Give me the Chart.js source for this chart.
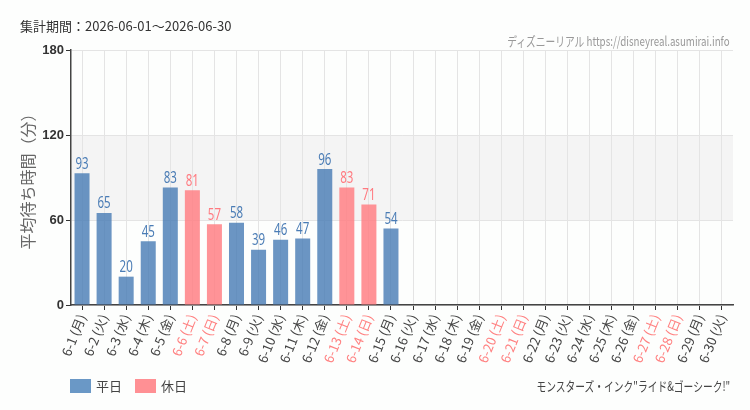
<!DOCTYPE html>
<html><head><meta charset="utf-8">
<script src="https://cdn.jsdelivr.net/npm/chart.js@4/dist/chart.umd.min.js"></script>
<style>
html,body{margin:0;padding:0;background:#fdfefd;}
#wrap{position:relative;width:750px;height:410px;font-family:"Noto Sans CJK JP","Noto Sans",sans-serif;}
#c{position:absolute;left:0;top:0;}
.t{position:absolute;white-space:nowrap;}
#period{left:20px;top:16px;font-size:13px;color:#333;}
#wm{right:20px;top:31px;font-size:13px;color:#999;transform:scaleX(0.75);transform-origin:right;}
#attr{right:20px;top:376px;font-size:13px;color:#444;transform:scaleX(0.75);transform-origin:right;}
.lg{top:376px;font-size:13px;color:#444;display:flex;align-items:center;}
.lg span.b{display:inline-block;width:21px;height:14px;margin-right:5px;}
</style></head><body>
<div id="wrap">
<canvas id="c" width="750" height="410"></canvas>
<div class="t" id="period">集計期間：2026-06-01～2026-06-30</div>
<div class="t" id="wm">ディズニーリアル https://disneyreal.asumirai.info</div>
<div class="t lg" style="left:70px"><span class="b" style="background:#6a98c6"></span>平日</div>
<div class="t lg" style="left:135px"><span class="b" style="background:#ff9094"></span>休日</div>
<div class="t" id="attr">モンスターズ・インク"ライド&amp;ゴーシーク!"</div>
</div>
<script>
const days = ["6-1","6-2","6-3","6-4","6-5","6-6","6-7","6-8","6-9","6-10","6-11","6-12","6-13","6-14","6-15","6-16","6-17","6-18","6-19","6-20","6-21","6-22","6-23","6-24","6-25","6-26","6-27","6-28","6-29","6-30"];
const weekdays = ["月","火","水","木","金","土","日","月","火","水","木","金","土","日","月","火","水","木","金","土","日","月","火","水","木","金","土","日","月","火"];
const holiday = [0,0,0,0,0,1,1,0,0,0,0,0,1,1,0,0,0,0,0,1,1,0,0,0,0,0,1,1,0,0];
const waits = [93,65,20,45,83,81,57,58,39,46,47,96,83,71,54,null,null,null,null,null,null,null,null,null,null,null,null,null,null,null];
const yTicks = [0,60,120,180];

const labels = days.map((d,i)=>d+" ("+weekdays[i]+")");
const weekdayData = waits.map((v,i)=>holiday[i]?null:v);
const holidayData = waits.map((v,i)=>holiday[i]?v:null);

const BLUE="rgba(74,126,182,0.82)", PINK="rgba(255,128,133,0.85)";
const BLUE_T="#4a7cb5", PINK_T="#ff7a80";

const bandPlugin={id:'band',beforeDraw(ch){const {ctx,chartArea:a,scales:{y}}=ch;ctx.save();ctx.fillStyle="#f4f4f4";const t=y.getPixelForValue(120),b=y.getPixelForValue(60);ctx.fillRect(a.left,t,a.right-a.left,b-t);ctx.restore();}};
const valPlugin={id:'vals',afterDatasetsDraw(ch){const ctx=ch.ctx;
ch.data.datasets.forEach((ds,di)=>{const m=ch.getDatasetMeta(di);m.data.forEach((bar,i)=>{const v=ds.data[i];if(v==null)return;
ctx.save();ctx.font='16px "Noto Sans","DejaVu Sans",sans-serif';ctx.textAlign='center';ctx.textBaseline='bottom';
ctx.translate(bar.x,bar.y-1);ctx.scale(0.72,1);ctx.fillStyle=di===0?BLUE_T:PINK_T;ctx.fillText(String(v),0,0);ctx.restore();});});}};

new Chart(document.getElementById('c'),{
type:'bar',
data:{labels,datasets:[
{label:'平日',data:weekdayData,backgroundColor:BLUE,grouped:false,barPercentage:0.68,categoryPercentage:1},
{label:'休日',data:holidayData,backgroundColor:PINK,grouped:false,barPercentage:0.68,categoryPercentage:1}
]},
options:{responsive:false,animation:false,devicePixelRatio:1,
layout:{padding:{top:50,right:17,bottom:40,left:14}},
plugins:{legend:{display:false},tooltip:{enabled:false}},
scales:{
x:{grid:{offset:false,color:'#e4e4e4',tickColor:'#333',tickLength:5,drawTicks:true},border:{color:'#444',width:1.5},
 afterFit(s){s.height=65;},
 ticks:{autoSkip:false,minRotation:68,maxRotation:68,padding:2,font:{size:13,family:'"Noto Sans CJK JP","Noto Sans",sans-serif'},color:(c)=>holiday[c.index]?'#ff8080':'#444'}},
y:{min:0,max:180,afterBuildTicks(s){s.ticks=yTicks.map(v=>({value:v}));},
 afterFit(s){s.width=57;},
 grid:{color:'#e4e4e4',tickColor:'#333',tickLength:5},border:{color:'#444',width:1.5},
 ticks:{padding:2,font:{size:13,family:'"Liberation Sans","Noto Sans",sans-serif',weight:'bold'},color:'#333'},
 title:{display:true,text:'平均待ち時間（分）',color:'#666',font:{size:16,family:'"Noto Sans CJK JP",sans-serif'},padding:{bottom:3}}}
}},
plugins:[bandPlugin,valPlugin]
});
</script>
</body></html>
